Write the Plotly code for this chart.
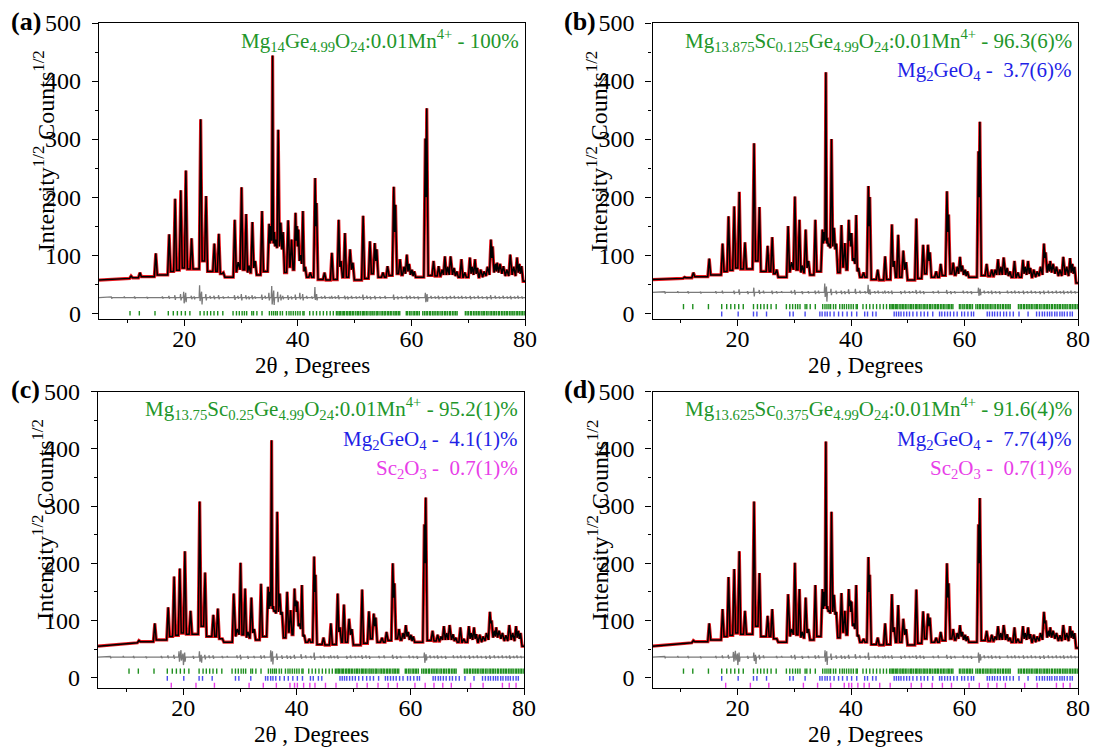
import plotly.graph_objects as go

W, H = 1099, 751

# ---------------------------------------------------------------------------
# Rietveld refinement data (2theta in degrees, intensity in sqrt(counts))
# ---------------------------------------------------------------------------

# positions of the resolved diffraction peaks (common to all four samples)
peak_2theta = [10.65, 12.2, 15.0, 17.35, 18.4, 19.4, 20.3, 21.3, 22.9, 23.85,
               25.3, 26.1, 26.9, 28.9, 29.5, 30.1, 30.9, 31.4, 32.0, 32.5,
               33.7, 34.95, 35.25, 35.56, 35.85, 36.15, 36.55, 37.0, 37.4, 38.3,
               38.9, 39.6, 39.85, 40.1, 40.5, 40.9, 41.3, 42.2, 43.05, 43.3,
               44.7, 46.0, 47.2, 47.6, 48.3, 49.2, 49.7, 51.5, 52.7, 53.55,
               53.9, 55.0, 55.8, 56.9, 57.2, 58.0, 58.7, 59.2, 59.6, 60.1,
               60.5, 62.45, 62.7, 63.9, 64.8, 65.4, 65.9, 66.4, 66.9, 67.5,
               68.0, 68.8, 69.4, 70.3, 70.7, 71.2, 71.6, 72.2, 72.8, 73.4,
               74.0, 74.3, 74.8, 75.1, 75.6, 76.2, 76.8, 77.4, 78.0, 78.6,
               79.0, 79.4]

# peak maxima for x = 0, 0.125, 0.25, 0.375 Sc
peak_a = [64, 70, 103, 136, 197, 212, 246, 129, 334, 202,
          120, 137, 70, 161, 88, 217, 171, 82, 157, 90,
          176, 154, 150, 444, 140, 127, 316, 156, 140, 160,
          127, 173, 150, 144, 100, 176, 80, 70, 233, 190,
          70, 104, 161, 90, 138, 110, 87, 168, 124, 121,
          110, 70, 81, 218, 187, 93, 80, 101, 85, 75,
          72, 301, 353, 90, 81, 75, 98, 80, 98, 78,
          72, 93, 70, 96, 80, 93, 78, 75, 72, 80,
          127, 115, 85, 87, 85, 81, 75, 101, 80, 96,
          85, 81]
peak_b = [62, 70, 94, 120, 167, 184, 209, 122, 293, 183,
          116, 131, 75, 150, 88, 201, 161, 82, 144, 90,
          161, 144, 140, 415, 130, 120, 300, 147, 120, 152,
          121, 161, 138, 138, 95, 169, 78, 70, 219, 200,
          75, 98, 153, 90, 135, 108, 88, 163, 118, 118,
          105, 72, 85, 210, 170, 87, 80, 97, 82, 75,
          72, 279, 330, 85, 75, 75, 93, 80, 96, 78,
          72, 90, 70, 92, 80, 90, 78, 75, 72, 80,
          120, 105, 85, 90, 85, 80, 75, 97, 80, 95,
          85, 80]
peak_c = [60, 65, 95, 123, 177, 191, 221, 117, 308, 184,
          110, 121, 68, 147, 85, 201, 156, 80, 140, 85,
          164, 159, 150, 415, 125, 118, 290, 147, 115, 150,
          118, 156, 135, 133, 95, 162, 75, 68, 212, 180,
          70, 95, 147, 88, 128, 103, 85, 154, 116, 112,
          105, 70, 80, 200, 165, 85, 78, 92, 80, 75,
          72, 268, 315, 82, 75, 72, 90, 78, 92, 76,
          70, 88, 68, 90, 78, 88, 76, 75, 72, 78,
          115, 100, 82, 88, 82, 78, 74, 92, 78, 90,
          82, 78]
peak_d = [60, 65, 95, 120, 176, 190, 221, 117, 308, 183,
          108, 120, 68, 146, 85, 201, 155, 80, 140, 85,
          162, 155, 150, 413, 125, 118, 290, 145, 115, 148,
          117, 155, 135, 133, 95, 162, 75, 68, 211, 180,
          70, 95, 146, 88, 127, 103, 85, 154, 116, 112,
          105, 70, 80, 200, 165, 85, 78, 92, 80, 75,
          72, 268, 314, 82, 75, 72, 90, 78, 92, 76,
          70, 88, 68, 90, 78, 88, 76, 75, 72, 78,
          115, 100, 82, 88, 82, 78, 74, 92, 78, 90,
          82, 78]

# background / valley level on the low-angle side of each peak
valley = [60, 61, 63, 66, 72, 74, 78, 76, 76, 90,
          72, 72, 68, 62, 72, 75, 75, 70, 70, 78,
          66, 72, 120, 125, 120, 115, 112, 115, 110, 70,
          80, 75, 125, 115, 90, 85, 72, 62, 62, 150,
          58, 57, 58, 80, 62, 62, 75, 57, 60, 68,
          90, 62, 62, 65, 140, 68, 66, 68, 72, 66,
          64, 62, 200, 65, 64, 64, 66, 66, 66, 66,
          64, 62, 62, 62, 68, 66, 68, 62, 62, 64,
          66, 95, 70, 72, 70, 68, 64, 64, 66, 64,
          70, 68]

bg_start = [57, 58, 55, 55]   # level at 2theta = 5
bg_end = [55, 52, 55, 52]     # level at 2theta = 80

# difference curve: offset and (position, excursion up, excursion down)
diff_level = [27, 36, 36, 36]
diff_a = [(18.4, 4, 4), (19.4, 6, 5), (19.95, 10, 10), (20.3, 8, 8), (21.3, 3, 3),
          (22.75, 21, 6), (23.1, 10, 12), (23.85, 6, 5), (25.3, 3, 3), (26.1, 4, 3),
          (28.9, 4, 4), (30.1, 6, 5), (30.9, 4, 3), (32.0, 4, 3), (33.7, 5, 4),
          (34.95, 8, 5), (35.45, 20, 12), (35.8, 12, 13), (36.5, 10, 8), (37.0, 5, 5),
          (38.3, 4, 4), (39.6, 5, 4), (40.4, 8, 3), (40.9, 6, 5), (43.05, 18, 4),
          (43.35, 6, 5), (47.2, 4, 3), (48.3, 3, 3), (51.5, 5, 4), (53.6, 3, 3),
          (56.9, 5, 4), (59.2, 3, 3), (62.5, 8, 8), (62.8, 6, 7), (66.9, 3, 2),
          (74.0, 4, 3)]
diff_b = [(19.4, 3, 3), (20.3, 5, 4), (22.9, 8, 7), (23.85, 4, 3), (26.1, 3, 3),
          (30.1, 4, 4), (33.7, 3, 3), (35.4, 15, 8), (35.7, 10, 16), (36.5, 6, 5),
          (38.3, 3, 3), (39.6, 5, 3), (40.8, 6, 3), (43.05, 13, 3), (43.35, 5, 4),
          (47.2, 3, 3), (51.5, 4, 3), (56.9, 4, 3), (62.5, 8, 6), (62.8, 6, 5),
          (74.0, 3, 3)]
diff_c = [(18.4, 4, 3), (19.3, 10, 8), (19.65, 12, 6), (20.0, 6, 14), (20.3, 8, 8),
          (22.9, 10, 8), (23.2, 4, 10), (23.85, 4, 4), (25.3, 3, 3), (30.1, 4, 4),
          (33.7, 3, 3), (35.45, 12, 8), (35.75, 10, 13), (36.5, 6, 5), (38.3, 3, 3),
          (39.6, 4, 3), (40.8, 5, 3), (43.1, 8, 5), (47.2, 3, 3), (51.5, 3, 3),
          (56.9, 4, 3), (62.5, 8, 10), (62.8, 5, 6), (74.0, 3, 3)]
diff_d = [(18.4, 4, 3), (19.3, 9, 8), (19.65, 11, 6), (20.0, 6, 14), (20.3, 8, 8),
          (22.9, 8, 7), (23.2, 4, 12), (23.85, 4, 4), (30.1, 4, 4), (33.7, 3, 3),
          (35.45, 12, 8), (35.75, 10, 14), (36.5, 6, 5), (38.3, 3, 3), (39.6, 4, 3),
          (40.8, 5, 3), (43.1, 8, 5), (47.2, 3, 3), (51.5, 3, 3), (56.9, 4, 3),
          (62.5, 8, 10), (62.8, 5, 6), (74.0, 3, 3)]
# small residual wiggles seen along the whole difference curve
diff_minor = [(7.2, 1, 2), (9.5, 2, 1), (11.3, 2, 2), (13.5, 1, 2), (16.2, 2, 2),
              (17.35, 3, 2), (21.8, 2, 3), (24.6, 3, 2), (26.9, 2, 2), (27.8, 2, 1),
              (29.5, 3, 2), (31.4, 2, 3), (32.5, 2, 2), (34.3, 3, 2), (37.4, 3, 3),
              (38.9, 2, 3), (41.6, 3, 2), (42.5, 2, 2), (44.2, 2, 2), (44.8, 3, 2),
              (45.6, 1, 2), (46.0, 3, 2), (46.6, 2, 2), (48.8, 2, 3), (49.5, 3, 2),
              (50.3, 2, 2), (50.9, 2, 1), (52.2, 3, 2), (52.8, 2, 3), (54.5, 2, 2),
              (55.4, 3, 2), (57.6, 2, 3), (58.3, 2, 2), (59.8, 3, 2), (60.5, 2, 2),
              (61.2, 2, 3), (63.5, 3, 2), (64.2, 2, 2), (64.8, 3, 3), (65.5, 2, 2),
              (66.2, 2, 3), (67.6, 3, 2), (68.3, 2, 2), (68.9, 3, 2), (69.6, 2, 2),
              (70.4, 3, 3), (71.1, 2, 2), (71.8, 3, 2), (72.5, 2, 2), (73.3, 2, 3),
              (74.8, 3, 2), (75.5, 2, 2), (76.2, 3, 2), (76.9, 2, 2), (77.5, 3, 3),
              (78.2, 2, 2), (78.8, 3, 2), (79.5, 2, 2)]

# Bragg reflection markers of each phase
refl_main = [10.46, 12.1, 14.86, 17.2, 18.08, 18.8, 19.5, 20.2, 21.0, 22.8,
             23.5, 24.07, 24.66, 25.25, 25.9, 26.8, 28.6, 29.2, 29.7, 30.2,
             30.6, 31.0, 31.9, 32.2, 32.8, 33.7, 35.0, 35.4, 35.75, 36.1,
             36.4, 36.9, 37.3, 38.0, 38.45, 38.8, 39.2, 39.6, 40.0, 40.4,
             40.9, 41.1, 42.1, 42.7, 43.3, 43.9, 44.5, 45.1, 45.7, 46.25,
             46.8, 47.05, 47.3, 47.5, 47.8, 48.05, 48.25, 48.6, 48.8, 49.1,
             49.3, 49.6, 49.85, 50.2, 50.5, 50.7, 51.0, 51.35, 51.55, 51.8,
             52.1, 52.35, 52.7, 52.9, 53.2, 53.45, 53.8, 54.0, 54.3, 54.65,
             54.9, 55.2, 55.4, 55.75, 56.0, 56.3, 56.55, 56.9, 57.15, 57.4,
             57.7, 57.95, 59.1, 59.35, 59.7, 59.95, 60.3, 60.55, 60.85, 61.1,
             61.4, 62.0, 62.3, 62.6, 62.85, 63.2, 63.4, 63.75, 64.0, 64.3,
             64.6, 64.85, 65.2, 65.45, 65.8, 66.05, 66.35, 66.7, 66.9, 67.25,
             67.5, 67.8, 68.05, 69.5, 69.8, 70.05, 70.4, 70.6, 70.95, 71.2,
             71.5, 71.8, 72.05, 72.4, 72.65, 72.9, 73.25, 73.5, 73.85, 74.1,
             74.4, 74.65, 74.95, 75.3, 75.5, 75.85, 76.1, 76.4, 76.7, 76.95,
             77.3, 77.55, 77.85, 78.1, 78.45, 78.7, 79.0, 79.3, 79.55, 79.85]
refl_mg2geo4 = [17.2, 20.1, 22.8, 23.4, 25.1, 29.2, 29.8, 31.9, 34.5, 34.9,
                35.4, 35.8, 36.3, 37.0, 37.8, 38.5, 39.3, 40.1, 41.0, 42.4,
                42.9, 43.8, 44.4, 47.6, 48.0, 48.4, 48.8, 49.3, 49.8, 50.3,
                50.9, 51.6, 52.3, 52.9, 53.5, 54.4, 55.6, 56.0, 56.5, 57.0,
                57.5, 58.1, 58.7, 59.5, 60.0, 60.6, 61.2, 61.6, 64.0, 64.4,
                64.9, 65.3, 65.8, 66.3, 66.9, 67.4, 68.0, 68.6, 69.6, 71.2,
                72.7, 73.2, 73.7, 74.1, 74.6, 75.0, 75.4, 75.9, 76.3, 76.8,
                77.2, 77.6, 78.1, 78.6, 79.0]
refl_sc2o3 = [17.9, 22.25, 25.5, 31.6, 34.1, 36.4, 38.8, 39.6, 40.1, 41.2,
              42.3, 43.2, 45.05, 46.9, 50.6, 52.4, 54.3, 56.1, 57.7, 60.8,
              62.6, 64.15, 65.7, 67.2, 70.6, 72.8, 76.2, 77.4, 78.6]

panel_tags = ["(a)", "(b)", "(c)", "(d)"]
phase_main = [
    "Mg<sub>14</sub>Ge<sub>4.99</sub>O<sub>24</sub>:0.01Mn<sup>4+</sup> - 100%",
    "Mg<sub>13.875</sub>Sc<sub>0.125</sub>Ge<sub>4.99</sub>O<sub>24</sub>:0.01Mn<sup>4+</sup> - 96.3(6)%",
    "Mg<sub>13.75</sub>Sc<sub>0.25</sub>Ge<sub>4.99</sub>O<sub>24</sub>:0.01Mn<sup>4+</sup> - 95.2(1)%",
    "Mg<sub>13.625</sub>Sc<sub>0.375</sub>Ge<sub>4.99</sub>O<sub>24</sub>:0.01Mn<sup>4+</sup> - 91.6(4)%",
]
phase_mg2geo4 = [None, "3.7(6)%", "4.1(1)%", "7.7(4)%"]
phase_sc2o3 = [None, None, "0.7(1)%", "0.7(1)%"]

# ---------------------------------------------------------------------------
GREEN_TXT = "#22962a"
GREEN = "#1f8f1f"
BLUE_TXT = "#1f1fe6"
BLUE = "#4a4aee"
MAGENTA = "#e83ee8"
RED = "#e8161c"
FONT = "Liberation Serif"

X_RANGE = [5, 80]


def profile(heights, start, end, half=0.26):
    xs, ys = [X_RANGE[0]], [start]
    n = len(peak_2theta)
    for i, (p, h) in enumerate(zip(peak_2theta, heights)):
        left = p - half
        if i > 0:
            left = max(left, (peak_2theta[i - 1] + p) / 2)
        right = p + half
        if i < n - 1:
            right = min(right, (p + peak_2theta[i + 1]) / 2)
        right_level = valley[i + 1] if i < n - 1 else end
        xs += [left, p, right]
        ys += [valley[i], h, right_level]
    xs.append(X_RANGE[1])
    ys.append(end)
    return xs, ys


def difference(level, spikes):
    major = [s[0] for s in spikes]
    merged = list(spikes) + [m for m in diff_minor
                             if all(abs(m[0] - q) > 0.3 for q in major)]
    merged.sort(key=lambda s: s[0])
    xs, ys = [X_RANGE[0]], [level]
    for p, up, down in merged:
        xs += [p - 0.12, p - 0.04, p + 0.04, p + 0.12]
        ys += [level, level + up, level - down, level]
    xs.append(X_RANGE[1])
    ys.append(level)
    return xs, ys


def tick_marks(positions, y0, y1, color, xa, ya):
    xs, ys = [], []
    for p in positions:
        xs += [p, p, None]
        ys += [y0, y1, None]
    return go.Scatter(x=xs, y=ys, mode="lines", xaxis=xa, yaxis=ya,
                      line=dict(color=color, width=1.4),
                      hoverinfo="skip", showlegend=False)


# pixel geometry of the four plot frames: (left, right, top, bottom)
frames = [(99, 525, 23, 319.3), (652.5, 1078, 23, 319.3),
          (98, 524, 391.7, 688.3), (652.5, 1078, 391.7, 688.3)]
y_ranges = [[-10.5, 500], [-10.5, 500], [-18.6, 500], [-18.6, 500]]
heights_all = [peak_a, peak_b, peak_c, peak_d]
diffs_all = [diff_a, diff_b, diff_c, diff_d]

fig = go.Figure()
layout = dict(width=W, height=H, margin=dict(l=0, r=0, t=0, b=0, autoexpand=False),
              paper_bgcolor="white", plot_bgcolor="white",
              showlegend=False, font=dict(family=FONT, color="black"))
annotations = []

for k in range(4):
    sfx = "" if k == 0 else str(k + 1)
    xa, ya = "x" + sfx, "y" + sfx
    left, right, top, bottom = frames[k]

    layout["xaxis" + sfx] = dict(
        domain=[left / W, right / W], anchor=ya, range=X_RANGE, automargin=False,
        tickmode="linear", tick0=0, dtick=20, ticks="outside", ticklen=6,
        tickwidth=1.3, tickcolor="black", showline=True, linecolor="black",
        linewidth=1.3, mirror=True, showgrid=False, zeroline=False,
        ticklabelstandoff=-8,
        tickfont=dict(family=FONT, size=24, color="black"),
        minor=dict(dtick=10, tick0=0, ticks="outside", ticklen=3,
                   tickcolor="black", tickwidth=1.2, showgrid=False))
    layout["yaxis" + sfx] = dict(
        domain=[1 - bottom / H, 1 - top / H], anchor=xa, range=y_ranges[k],
        automargin=False,
        tickmode="linear", tick0=0, dtick=100, ticks="outside", ticklen=6,
        tickwidth=1.3, tickcolor="black", showline=True, linecolor="black",
        linewidth=1.3, mirror=True, showgrid=False, zeroline=False,
        ticklabelstandoff=6,
        tickfont=dict(family=FONT, size=24, color="black"),
        minor=dict(dtick=50, tick0=0, ticks="outside", ticklen=3,
                   tickcolor="black", tickwidth=1.2, showgrid=False))

    # observed (red) and calculated (black) profiles
    px, py = profile(heights_all[k], bg_start[k], bg_end[k])
    fig.add_trace(go.Scatter(x=px, y=py, mode="lines", xaxis=xa, yaxis=ya,
                             line=dict(color=RED, width=3.2),
                             hoverinfo="skip", showlegend=False))
    fig.add_trace(go.Scatter(x=px, y=py, mode="lines", xaxis=xa, yaxis=ya,
                             line=dict(color="black", width=1.5),
                             hoverinfo="skip", showlegend=False))
    # difference curve
    dx, dy = difference(diff_level[k], diffs_all[k])
    fig.add_trace(go.Scatter(x=dx, y=dy, mode="lines", xaxis=xa, yaxis=ya,
                             line=dict(color="#7a7a7a", width=1.3),
                             hoverinfo="skip", showlegend=False))

    # Bragg position rows
    if k == 0:
        fig.add_trace(tick_marks(refl_main, -4, 4, GREEN, xa, ya))
    else:
        fig.add_trace(tick_marks(refl_main, 7, 16, GREEN, xa, ya))
        fig.add_trace(tick_marks(refl_mg2geo4, -5.5, 3, BLUE, xa, ya))
    if k >= 2:
        fig.add_trace(tick_marks(refl_sc2o3, -17.5, -9, MAGENTA, xa, ya))

    cx = (left + right) / 2
    # axis titles
    annotations.append(dict(
        xref="paper", yref="paper", x=cx / W, y=1 - (bottom + 46) / H,
        xanchor="center", yanchor="middle", showarrow=False,
        text="2\u03b8 , Degrees", font=dict(family=FONT, size=23, color="black")))
    annotations.append(dict(
        xref="paper", yref="paper", x=(left - 55) / W,
        y=1 - (top + (bottom - top) / 2 - 20) / H,
        xanchor="center", yanchor="middle", showarrow=False, textangle=-90,
        text="Intensity<sup>1/2</sup> Counts<sup>1/2</sup>",
        font=dict(family=FONT, size=24, color="black")))
    # panel tag
    annotations.append(dict(
        xref="paper", yref="paper", x=(left - 73) / W, y=1 - (top - 2) / H,
        xanchor="center", yanchor="middle", showarrow=False,
        text="<b>" + panel_tags[k] + "</b>",
        font=dict(family=FONT, size=26, color="black")))
    # phase fractions
    tx = (right - 4) / W
    annotations.append(dict(
        xref="paper", yref="paper", x=tx, y=1 - (top + 17) / H,
        xanchor="right", yanchor="middle", showarrow=False,
        text=phase_main[k], font=dict(family=FONT, size=21, color=GREEN_TXT)))
    if phase_mg2geo4[k]:
        annotations.append(dict(
            xref="paper", yref="paper", x=tx, y=1 - (top + 48) / H,
            xanchor="right", yanchor="middle", showarrow=False,
            text="Mg<sub>2</sub>GeO<sub>4</sub> - \u00a0" + phase_mg2geo4[k],
            font=dict(family=FONT, size=21, color=BLUE_TXT)))
    if phase_sc2o3[k]:
        annotations.append(dict(
            xref="paper", yref="paper", x=tx, y=1 - (top + 77) / H,
            xanchor="right", yanchor="middle", showarrow=False,
            text="Sc<sub>2</sub>O<sub>3</sub> - \u00a0" + phase_sc2o3[k],
            font=dict(family=FONT, size=21, color=MAGENTA)))

layout["annotations"] = annotations
fig.update_layout(**layout)
fig.write_html("out.html")
